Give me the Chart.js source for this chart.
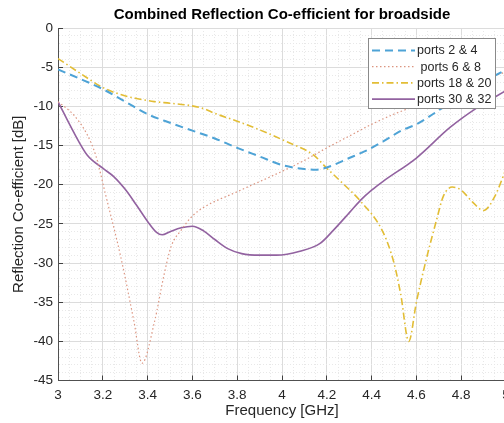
<!DOCTYPE html>
<html>
<head>
<meta charset="utf-8">
<script src="https://cdn.jsdelivr.net/npm/chart.js@4/dist/chart.umd.min.js"></script>
<style>
  html, body { margin: 0; padding: 0; background: #fff; overflow: hidden; }
  #wrap { width: 530px; height: 423px; }
</style>
</head>
<body>
<div id="wrap"><canvas id="c" width="530" height="423"></canvas></div>
<script>
// Frequency sweep (GHz) and combined reflection coefficient (dB) per port pair
const freq24 = [3.00, 3.10, 3.20, 3.30, 3.40, 3.50, 3.60, 3.70, 3.80, 3.90, 4.00, 4.10, 4.15, 4.20, 4.30, 4.38, 4.45, 4.54, 4.60, 4.70, 4.80, 4.90, 5.00];
const db24   = [-5.3, -6.5, -7.8, -9.4, -11.0, -12.1, -13.1, -14.1, -15.3, -16.4, -17.5, -18.0, -18.1, -17.8, -16.6, -15.6, -14.5, -13.0, -12.3, -10.5, -8.6, -6.9, -5.3];

const freq68 = [3.00, 3.07, 3.13, 3.17, 3.21, 3.28, 3.34, 3.375, 3.43, 3.475, 3.505, 3.55, 3.60, 3.65, 3.80, 4.00, 4.10, 4.20, 4.30, 4.40, 4.50, 4.60, 4.70, 4.80, 4.90, 5.00];
const db68   = [-9.4, -11.1, -13.6, -16.4, -21.0, -29.2, -37.6, -42.8, -37.6, -31.3, -27.9, -25.8, -24.0, -22.9, -20.9, -18.3, -16.9, -15.3, -13.8, -12.3, -11.0, -9.9, -8.8, -7.7, -6.6, -5.6];

const freq1820 = [3.00, 3.10, 3.20, 3.28, 3.35, 3.43, 3.50, 3.59, 3.65, 3.70, 3.81, 3.90, 4.02, 4.14, 4.20, 4.27, 4.35, 4.45, 4.50, 4.53, 4.566, 4.60, 4.64, 4.69, 4.72, 4.76, 4.80, 4.85, 4.90, 4.95, 5.00];
const db1820   = [-3.9, -5.8, -7.6, -8.5, -9.0, -9.4, -9.6, -9.9, -10.3, -10.9, -12.0, -13.0, -14.5, -16.2, -17.9, -19.8, -22.1, -26.0, -30.0, -34.0, -40.0, -35.0, -30.0, -24.5, -21.5, -20.3, -20.7, -22.2, -23.3, -21.5, -18.0];

const freq3032 = [3.00, 3.07, 3.13, 3.20, 3.25, 3.30, 3.35, 3.40, 3.44, 3.465, 3.50, 3.55, 3.60, 3.65, 3.70, 3.76, 3.82, 3.90, 3.975, 4.08, 4.17, 4.23, 4.30, 4.35, 4.40, 4.45, 4.60, 4.75, 4.87, 5.00];
const db3032   = [-9.4, -13.3, -16.2, -17.9, -19.0, -20.6, -22.6, -24.7, -26.1, -26.4, -26.0, -25.5, -25.3, -25.9, -27.0, -28.2, -28.8, -29.0, -29.0, -28.5, -27.5, -25.8, -23.6, -22.0, -20.7, -19.6, -16.6, -12.7, -10.2, -8.0];

const seriesLabels = ['ports 2 & 4', ' ports 6 & 8', 'ports 18 & 20', 'ports 30 & 32'];

// Axis tick labels (major ticks only)
const xTickLabels = ['3', '3.2', '3.4', '3.6', '3.8', '4', '4.2', '4.4', '4.6', '4.8', '5'];
const yTickLabels = ['0', '-5', '-10', '-15', '-20', '-25', '-30', '-35', '-40', '-45'];

const FONT = "'Liberation Sans', Arial, Helvetica, sans-serif";
const TXT = '#262626';

function pts(xs, ys) { return xs.map((x, i) => ({ x: x, y: ys[i] })); }

// MATLAB-style legend box drawn inside the axes, top-right
const boxLegend = {
  id: 'boxLegend',
  afterDraw(chart) {
    const ctx = chart.ctx;
    const x0 = 368.5, y0 = 38.5, w = 127, h = 70;
    ctx.save();
    ctx.fillStyle = '#ffffff';
    ctx.fillRect(x0, y0, w, h);
    ctx.strokeStyle = '#8a8a8a';
    ctx.lineWidth = 1;
    ctx.setLineDash([]);
    ctx.strokeRect(x0, y0, w, h);
    ctx.font = '12.5px ' + FONT;
    ctx.textBaseline = 'middle';
    ctx.textAlign = 'left';
    chart.data.datasets.forEach((ds, i) => {
      const yy = 50.5 + i * 16.2;
      ctx.beginPath();
      ctx.strokeStyle = ds.borderColor;
      ctx.lineWidth = ds.borderWidth;
      ctx.setLineDash(ds.borderDash || []);
      ctx.moveTo(372, yy);
      ctx.lineTo(415, yy);
      ctx.stroke();
      ctx.setLineDash([]);
      ctx.fillStyle = TXT;
      ctx.fillText(ds.label, 417, yy + 0.5);
    });
    ctx.restore();
  }
};

const isMajorX = ctx => ctx.tick && Math.round(ctx.tick.value * 100) % 20 === 0;
const isMajorY = ctx => ctx.tick && Math.round(ctx.tick.value) % 5 === 0;

new Chart(document.getElementById('c'), {
  type: 'line',
  data: {
    datasets: [
      { label: seriesLabels[0], data: pts(freq24, db24), borderColor: '#4ea3d6', borderWidth: 2, borderDash: [8, 5] },
      { label: seriesLabels[1], data: pts(freq68, db68), borderColor: '#dc9580', borderWidth: 1.2, borderDash: [1.5, 2.5] },
      { label: seriesLabels[2], data: pts(freq1820, db1820), borderColor: '#e2bd35', borderWidth: 1.6, borderDash: [7, 3, 1.5, 3] },
      { label: seriesLabels[3], data: pts(freq3032, db3032), borderColor: '#9262a0', borderWidth: 1.6 }
    ]
  },
  options: {
    responsive: false,
    animation: false,
    parsing: false,
    layout: { padding: { left: 0, right: 24, top: 0, bottom: 0 } },
    elements: {
      point: { radius: 0 },
      line: { cubicInterpolationMode: 'monotone', fill: false }
    },
    plugins: {
      legend: { display: false },
      tooltip: { enabled: false },
      title: {
        display: true,
        fullSize: false,
        text: 'Combined Reflection Co-efficient for broadside',
        color: '#000',
        font: { family: FONT, size: 15, weight: 'bold', lineHeight: 1.2 },
        padding: { top: 6, bottom: 4 }
      }
    },
    scales: {
      x: {
        type: 'linear',
        min: 3, max: 5,
        afterBuildTicks(scale) {
          const t = [];
          for (let i = 0; i <= 40; i++) t.push({ value: (300 + 5 * i) / 100 });
          scale.ticks = t;
        },
        afterFit(scale) { scale.height = 42.5; },
        ticks: {
          autoSkip: false,
          maxRotation: 0,
          padding: 12,
          color: TXT,
          font: { family: FONT, size: 13.5 },
          callback(value, index) { return index % 4 === 0 ? xTickLabels[index / 4] : ''; }
        },
        grid: {
          drawTicks: true,
          tickLength: -5,
          tickWidth: 1,
          tickColor: ctx => isMajorX(ctx) ? '#404040' : 'rgba(0,0,0,0)',
          color: ctx => isMajorX(ctx) ? '#dcdcdc' : '#e8e8e8',
          lineWidth: 1
        },
        border: {
          display: true,
          color: '#505050',
          width: 1,
          dash: ctx => (ctx.tick && !isMajorX(ctx)) ? [1, 2] : []
        },
        title: {
          display: true,
          text: 'Frequency [GHz]',
          color: TXT,
          font: { family: FONT, size: 15, lineHeight: 1.2 },
          padding: { top: 0, bottom: 3 }
        }
      },
      y: {
        type: 'linear',
        min: -45, max: 0,
        afterBuildTicks(scale) {
          const t = [];
          for (let v = -45; v <= 0; v++) t.push({ value: v });
          scale.ticks = t;
        },
        afterFit(scale) { scale.width = 58; },
        ticks: {
          autoSkip: false,
          padding: 10,
          color: TXT,
          font: { family: FONT, size: 13.5 },
          callback(value) { return Math.round(value) % 5 === 0 ? yTickLabels[Math.round(-value / 5)] : ''; }
        },
        grid: {
          drawTicks: true,
          tickLength: -5,
          tickWidth: 1,
          tickColor: ctx => isMajorY(ctx) ? '#404040' : 'rgba(0,0,0,0)',
          color: ctx => isMajorY(ctx) ? '#dcdcdc' : '#e8e8e8',
          lineWidth: 1
        },
        border: {
          display: true,
          color: '#505050',
          width: 1,
          dash: ctx => (ctx.tick && !isMajorY(ctx)) ? [1, 2] : []
        },
        title: {
          display: true,
          text: 'Reflection Co-efficient [dB]',
          color: TXT,
          font: { family: FONT, size: 15, lineHeight: 1.2 },
          padding: { top: 10, bottom: 0 }
        }
      }
    }
  },
  plugins: [boxLegend]
});
</script>
</body>
</html>
